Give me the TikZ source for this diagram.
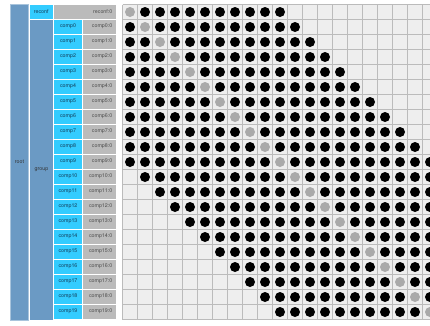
\documentclass[tikz,border=0pt]{standalone}
\usepackage{fontspec}
\setmainfont{TeX Gyre Heros}
\definecolor{rootblue}{HTML}{6B9AC4}
\definecolor{rootedge}{HTML}{A9C4DC}
\definecolor{cyanc}{HTML}{33CCFF}
\definecolor{labgray}{HTML}{BBBBBB}
\definecolor{gridbg}{HTML}{EEEEEE}
\definecolor{gridline}{HTML}{BBBBBB}
\definecolor{dotgray}{HTML}{AAAAAA}
\definecolor{cyantext}{HTML}{123A55}
\definecolor{graytext}{HTML}{4A4A4A}
\begin{document}
\begin{tikzpicture}[x=1pt,y=-1pt,
  font=\fontsize{5.3}{6}\selectfont,
  colcell/.style={fill=rootblue, draw=rootedge, line width=0.6, inner sep=0pt, text=black!80},
  cyancell/.style={fill=cyanc, minimum width=28, minimum height=14, inner sep=0pt, text=cyantext},
  graycell/.style={fill=labgray, minimum height=14, inner sep=0pt},
  graytxt/.style={inner sep=0pt, anchor=east, text=graytext},
  gline/.style={draw=gridline, line width=1.7},
  bdot/.style={fill=black},
  gdot/.style={fill=dotgray}]
\useasboundingbox (0,0) rectangle (430,325);
\fill[white] (0,0) rectangle (430,325);
\begin{scope}
\clip (0,0) rectangle (430,325);
% grid
\fill[gridbg] (122.5,4.5) rectangle (445,319.5);
\foreach \i in {0,...,21} \draw[gline] ({122.5+15*\i},4.5) -- ({122.5+15*\i},319.5);
\foreach \j in {0,...,21} \draw[gline] (122.5,{4.5+15*\j}) -- (445,{4.5+15*\j});
% dots
\foreach \k in {-1,...,19}{
  \pgfmathtruncatemacro\s{max(0,\k-9)}
  \pgfmathtruncatemacro\e{min(21,\k+11)}
  \pgfmathtruncatemacro\g{\k+1}
  \foreach \c in {\s,...,\e}{
    \ifnum\c=\g
      \fill[gdot] ({130+15*\c},{12+15*(\k+1)}) circle (5);
    \else
      \fill[bdot] ({130+15*\c},{12+15*(\k+1)}) circle (5);
    \fi
  }
}
\end{scope}
% hierarchy columns
\node[colcell, minimum width=18, minimum height=316] (root) at (19.5,162) {root};
\node[colcell, draw=none, minimum width=23, minimum height=300] (group) at (41.5,170) {group};
\node[cyancell, minimum width=23.5] (reconf) at (41.25,11.5) {reconf};
\node[graycell, minimum width=62] (reconfcell) at (85,11.5) {};
\node[graytxt] (reconflab) at (112.5,11.6) {reconf:0};
\foreach \k in {0,...,19}{
  \node[cyancell] (comp\k) at (68,{11.5+15*(\k+1)}) {comp\k};
  \node[graycell, minimum width=33] (compcell\k) at (99.5,{11.5+15*(\k+1)}) {};
  \node[graytxt] (complab\k) at (112.5,{11.6+15*(\k+1)}) {comp\k:0};
}
\end{tikzpicture}
\end{document}
